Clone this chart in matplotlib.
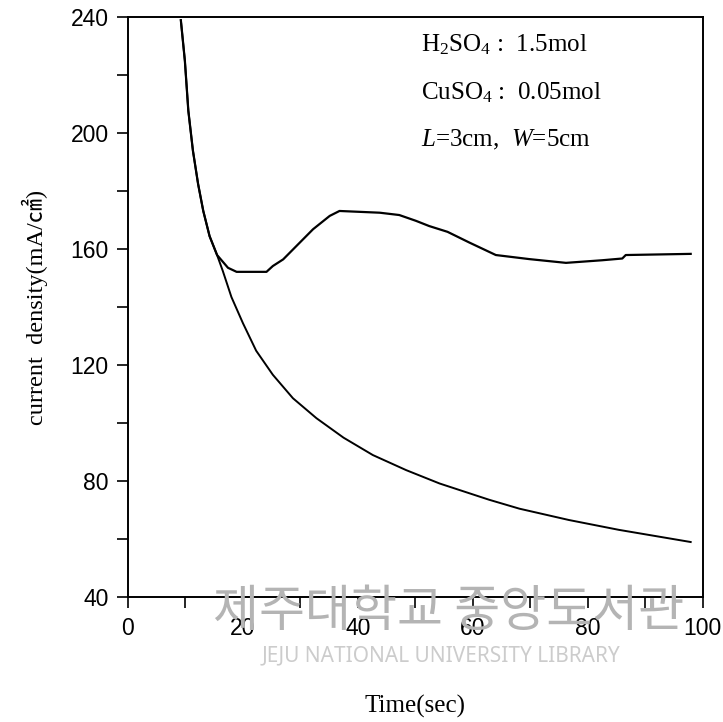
import matplotlib.pyplot as plt

plt.rcParams['mathtext.fontset'] = 'custom'
plt.rcParams['mathtext.rm'] = 'Liberation Serif'
plt.rcParams['mathtext.it'] = 'Liberation Serif:italic'

# lower curve: plain decay
t_decay = [9.2, 9.9, 10.5, 11.3, 12.2, 13.1, 14.2, 15.5, 16.5, 18.0, 20.0, 22.3, 25.2,
           28.7, 32.8, 37.5, 42.6, 48.4, 54.2, 62.8, 68.1, 76.7, 85.4, 97.9]
j_decay = [239, 225, 207.8, 194, 182.5, 173.2, 164.5, 158, 152.5, 143.5, 134.5, 125,
           116.7, 108.6, 101.7, 95, 89, 83.8, 79.2, 73.6, 70.5, 66.6, 63.2, 59]

# upper curve: with CuSO4
t_cu = [9.2, 9.9, 10.5, 11.3, 12.2, 13.1, 14.2, 15.5, 17.4, 18.9, 24.1, 25.2, 27.0,
        29.9, 32.2, 35.1, 36.8, 43.8, 47.2, 50.1, 52.4, 55.6, 59.4, 64.0, 69.8, 76.2,
        82.5, 86.0, 86.6, 97.9]
j_cu = [239, 225, 207.8, 194, 182.5, 173.2, 164.5, 158, 153.6, 152.2, 152.2, 154.2,
        156.5, 162.3, 166.9, 171.5, 173.2, 172.6, 171.8, 169.8, 168, 166, 162.3, 158,
        156.6, 155.3, 156.2, 156.8, 158, 158.4]

xticks = [0, 20, 40, 60, 80, 100]
yticks = [40, 80, 120, 160, 200, 240]

fig = plt.figure(figsize=(7.23, 7.22), dpi=100)
ax = fig.add_axes([0.177, 0.173, 0.795, 0.803])

ax.plot(t_decay, j_decay, color='black', lw=1.4)
ax.plot(t_cu, j_cu, color='black', lw=1.6)

ax.set_xlim(0, 100)
ax.set_ylim(40, 240)
ax.set_xticks(xticks)
ax.set_yticks(yticks)
ax.set_xticks(range(0, 101, 10), minor=True)
ax.set_yticks(range(40, 241, 20), minor=True)
ax.tick_params(which='both', direction='out', length=8, width=1.2)
ax.tick_params(labelsize=16.5, pad=6)
for lab in ax.get_xticklabels() + ax.get_yticklabels():
    lab.set_family('Liberation Sans')
for s in ax.spines.values():
    s.set_linewidth(1.4)

ax.set_xlabel('Time(sec)', family='Liberation Serif', fontsize=18, labelpad=40)
ax.set_ylabel('current  density(mA/㎠)', family=['Liberation Serif', 'Noto Sans CJK KR'],
              fontsize=17.5, labelpad=16)

ax.text(0.51, 0.952, 'H$_2$SO$_4$ :  1.5mol', transform=ax.transAxes,
        family='Liberation Serif', fontsize=18, va='center')
ax.text(0.51, 0.870, 'CuSO$_4$ :  0.05mol', transform=ax.transAxes,
        family='Liberation Serif', fontsize=18, va='center')
ax.text(0.51, 0.789, '$L$=3cm,  $W$=5cm', transform=ax.transAxes,
        family='Liberation Serif', fontsize=18, va='center')

# library watermark
fig.text(0.62, 0.152, '제주대학교 중앙도서관', family='Noto Sans CJK KR', fontsize=36,
         color='#b4b4b4', ha='center', va='center')
fig.text(0.61, 0.091, 'JEJU NATIONAL UNIVERSITY LIBRARY', family='Noto Sans', fontsize=15,
         color='#cccccc', ha='center', va='center')

fig.savefig('out.png', dpi=100)
